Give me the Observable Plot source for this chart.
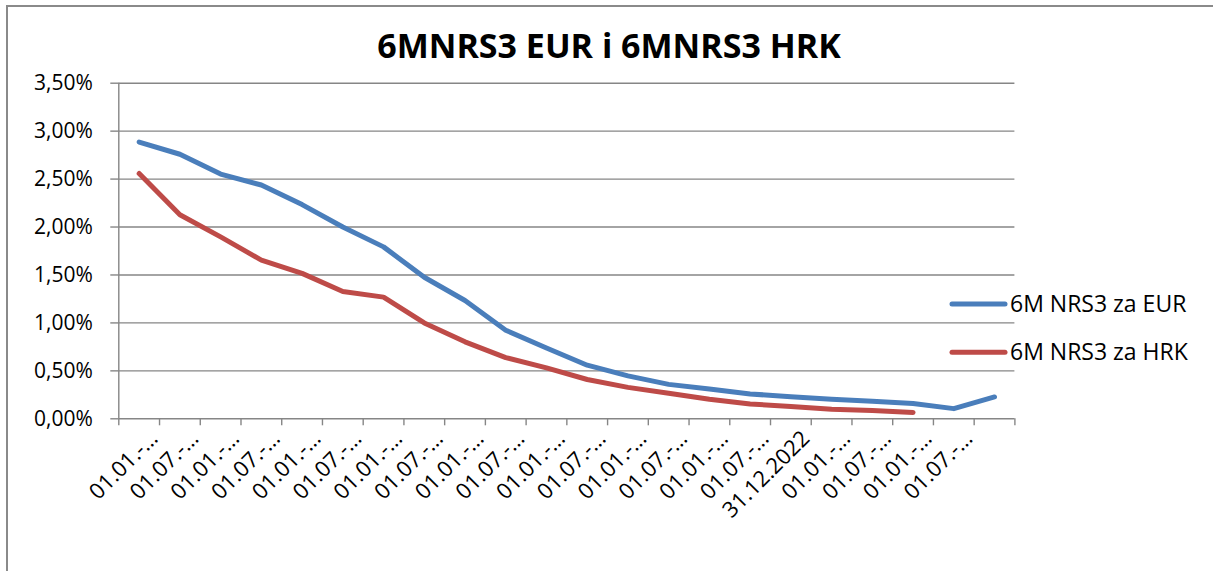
<!DOCTYPE html>
<html><head><meta charset="utf-8">
<script src="https://cdn.jsdelivr.net/npm/d3@7"></script>
<script src="https://cdn.jsdelivr.net/npm/@observablehq/plot@0.6"></script>
<style>
body{margin:0;background:#fff;}
#wrap{position:relative;width:1213px;height:571px;overflow:hidden;font-family:"Open Sans",sans-serif;background:#fff;}
#border{position:absolute;left:6px;top:5px;width:1300px;height:700px;border-left:2px solid #8a8a8a;border-top:2px solid #8a8a8a;}
#chart{position:absolute;left:0;top:0;}
#overlay{position:absolute;left:0;top:0;pointer-events:none;}
</style></head><body>
<div id="wrap"><div id="border"></div><div id="chart"></div>
<svg id="overlay" width="1213" height="571" font-family="Open Sans"></svg></div>
<script>
const title = "6MNRS3 EUR i 6MNRS3 HRK";
const categories = [
  "01.01.-…","01.07.-…","01.01.-…","01.07.-…","01.01.-…","01.07.-…","01.01.-…","01.07.-…",
  "01.01.-…","01.07.-…","01.01.-…","01.07.-…","01.01.-…","01.07.-…","01.01.-…","01.07.-…",
  "31.12.2022","01.01.-…","01.07.-…","01.01.-…","01.07.-…",""
];
const seriesNames = ["6M NRS3 za EUR", "6M NRS3 za HRK"];
const seriesColors = ["#4A7EBB", "#BE4B48"];
const eur = [2.886, 2.759, 2.552, 2.438, 2.234, 2.00, 1.793, 1.476, 1.234, 0.924, 0.738, 0.559,
             0.448, 0.359, 0.310, 0.259, 0.231, 0.203, 0.183, 0.160, 0.106, 0.228];
const hrk = [2.559, 2.128, 1.897, 1.655, 1.517, 1.328, 1.269, 1.000, 0.803, 0.638, 0.531, 0.410,
             0.328, 0.266, 0.203, 0.155, 0.128, 0.100, 0.086, 0.066];
const yTicks = [0, 0.5, 1, 1.5, 2, 2.5, 3, 3.5];

const eurRows = eur.map((v, i) => ({i, v}));
const hrkRows = hrk.map((v, i) => ({i, v}));
const fmtPct = d => d.toFixed(2).replace(".", ",") + "%";
const grid = "#868686";

const chart = Plot.plot({
  width: 1213, height: 571,
  marginLeft: 118.3, marginRight: 198.6, marginTop: 82.7, marginBottom: 152.7,
  x: {type: "linear", domain: [0, categories.length], axis: null},
  y: {domain: [0, 3.5], axis: null},
  style: {fontFamily: "Open Sans", color: "#000", background: "transparent", overflow: "visible"},
  marks: [
    Plot.gridY(yTicks, {stroke: grid, strokeOpacity: 1, strokeWidth: 1.4}),
    Plot.ruleX([0], {y1: 0, y2: 3.5, stroke: grid, strokeWidth: 1.4}),
    Plot.axisY(yTicks, {label: null, tickSize: 8, tickPadding: 18, tickFormat: fmtPct, stroke: grid, strokeWidth: 1.4, fontSize: 21, fill: "#000"}),
    Plot.axisX(d3.range(categories.length + 1), {label: null, tickSize: 7, tickFormat: () => "", stroke: grid, strokeWidth: 1.4}),
    Plot.axisX(categories.map((c, i) => i + 0.5), {label: null, tickSize: 0, tickPadding: 0, tickRotate: -45,
      tickFormat: d => categories[Math.floor(d)], dx: 15, dy: 16, fontSize: 22, fill: "#000"}),
    Plot.line(eurRows, {x: d => d.i + 0.5, y: "v", stroke: seriesColors[0], strokeWidth: 5, strokeLinecap: "round", strokeLinejoin: "round"}),
    Plot.line(hrkRows, {x: d => d.i + 0.5, y: "v", stroke: seriesColors[1], strokeWidth: 5, strokeLinecap: "round", strokeLinejoin: "round"})
  ]
});
document.getElementById("chart").appendChild(chart);

const ov = d3.select("#overlay");
ov.append("text").attr("x", 609).attr("y", 57.5).attr("text-anchor", "middle")
  .attr("font-weight", "bold").attr("font-size", 34).attr("fill", "#000").text(title);
const legY = [304, 352.3];
seriesNames.forEach((name, k) => {
  ov.append("line").attr("x1", 952).attr("x2", 1005).attr("y1", legY[k]).attr("y2", legY[k])
    .attr("stroke", seriesColors[k]).attr("stroke-width", 5).attr("stroke-linecap", "round");
  ov.append("text").attr("x", 1010).attr("y", legY[k] + 8).attr("font-size", 23).attr("fill", "#000").text(name);
});
</script>
</body></html>
